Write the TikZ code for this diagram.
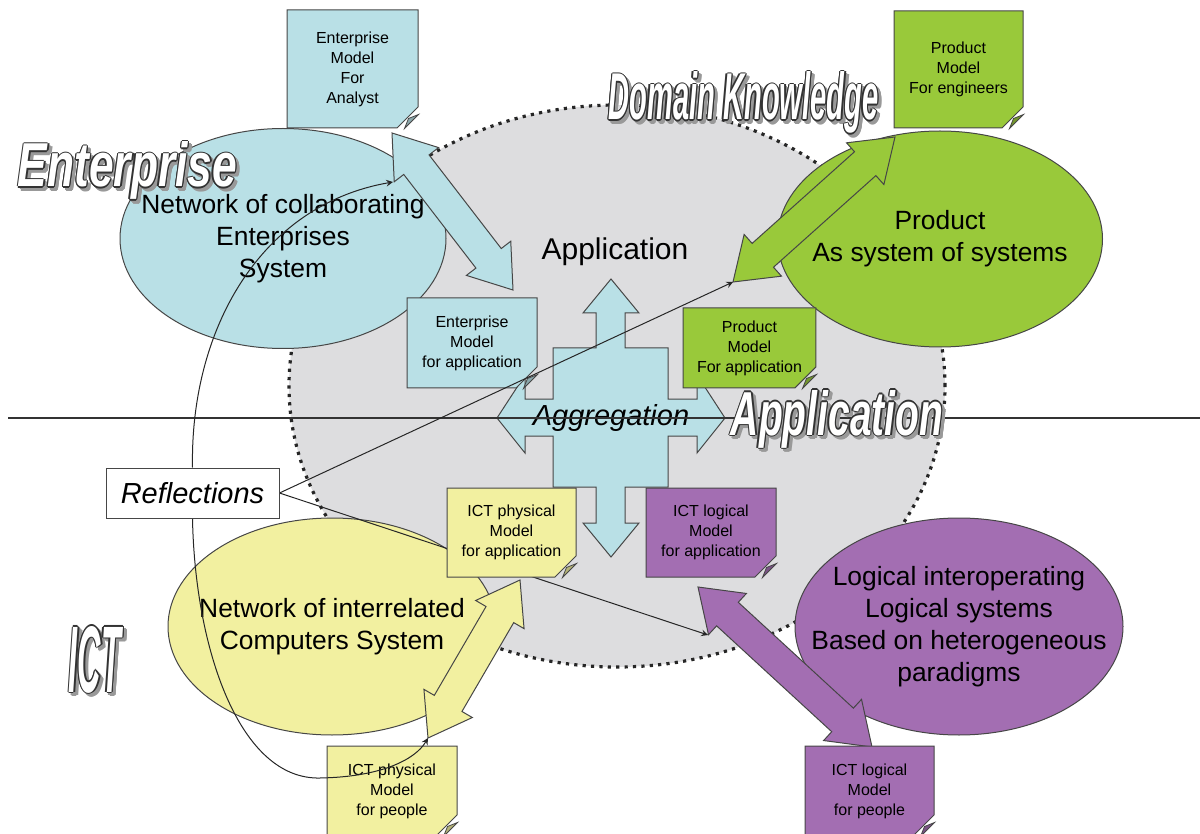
\documentclass[tikz,border=0pt]{standalone}
\usepackage{fontspec}
\setmainfont{Liberation Sans}
\newfontfamily\artfont{Liberation Sans}
\usetikzlibrary{arrows, calc, shapes.geometric, shapes.misc}

\definecolor{entblue}{RGB}{185,224,230}
\definecolor{prodgreen}{RGB}{153,201,58}
\definecolor{ictyellow}{RGB}{242,240,160}
\definecolor{logpurple}{RGB}{163,110,178}
\definecolor{appgrey}{RGB}{221,221,223}
\definecolor{edgegrey}{RGB}{70,70,70}

\tikzstyle{appdomain} = [ellipse, fill=appgrey, draw=black!85, line width=1.6pt, dash pattern=on 1.6pt off 2.6pt, minimum width=328pt, minimum height=281pt, inner sep=0pt]
\tikzstyle{sysellipse} = [ellipse, draw=edgegrey, line width=0.5pt, inner sep=0pt]
\tikzstyle{systext} = [align=center, inner sep=0pt, font=\fontsize{13.2}{16}\selectfont]
\tikzstyle{modelnote} = [chamfered rectangle, chamfered rectangle corners=south east, chamfered rectangle xsep=7pt, draw=edgegrey, line width=0.5pt, inner sep=0pt, align=center, font=\fontsize{8}{10}\selectfont]
\tikzstyle{blockarr} = [draw=edgegrey, line width=0.5pt, line join=miter]
\tikzstyle{reflline} = [->, >=stealth, line width=0.5pt, black!85]
\tikzstyle{reflbox} = [draw=edgegrey, fill=white, line width=0.5pt, minimum width=86.5pt, minimum height=25pt, inner sep=0pt, font=\fontsize{14.5}{17}\selectfont\itshape]
\tikzstyle{artword} = [anchor=base, inner sep=0pt, font=\artfont\bfseries\itshape]
\tikzstyle{divider} = [line width=0.6pt, black!80]

% double headed block arrow between two tips
\newcommand{\blockarrow}[3]{%
  \filldraw[blockarr, fill=#1] (#2)
    -- ($(#2)!20pt!(#3)!14pt!90:(#3)$) -- ($(#2)!20pt!(#3)!8pt!90:(#3)$)
    -- ($(#3)!20pt!(#2)!8pt!-90:(#2)$) -- ($(#3)!20pt!(#2)!14pt!-90:(#2)$)
    -- (#3)
    -- ($(#3)!20pt!(#2)!14pt!90:(#2)$) -- ($(#3)!20pt!(#2)!8pt!90:(#2)$)
    -- ($(#2)!20pt!(#3)!8pt!-90:(#3)$) -- ($(#2)!20pt!(#3)!14pt!-90:(#3)$)
    -- cycle;}

\newcommand{\notefold}[2]{%
  \filldraw[fill=#2!75!black, draw=edgegrey, line width=0.4pt]
    ($(#1.north east |- #1.south west)+(-14,0)$) -- ($(#1.north east |- #1.south west)+(0,-14)$)
    -- ($(#1.north east |- #1.south west)+(-10,-10)$) -- cycle;}

% outlined title with shadow
\newcommand{\wordart}[5]{%
  \foreach \ang in {0,45,...,315}
    \node[artword, text=black!40] (#1s\ang) at ($(#2)+(3,3)+(\ang:1.4)$) {\resizebox{#3}{#4}{#5}};
  \foreach \ang in {0,45,...,315}
    \node[artword, text=black!80] (#1o\ang) at ($(#2)+(\ang:1.4)$) {\resizebox{#3}{#4}{#5}};
  \node[artword, text=white] (#1) at (#2) {\resizebox{#3}{#4}{#5}};}

\begin{document}
\begin{tikzpicture}[x=0.5pt, y=-0.5pt]
\useasboundingbox (0,0) rectangle (1200,834);

\node[appdomain] (appDom) at (617,386) {};

\node[sysellipse, fill=entblue, minimum width=163pt, minimum height=110pt,
  label={[systext]center:Network of collaborating\\Enterprises\\System}] (entSys) at (283,238.5) {};
\node[sysellipse, fill=prodgreen, minimum width=162.5pt, minimum height=108pt,
  label={[systext]center:Product\\As system of systems}] (prodSys) at (940,239) {};
\node[sysellipse, fill=ictyellow, minimum width=164pt, minimum height=108.5pt,
  label={[systext]center:Network of interrelated\\Computers System}] (ictSys) at (332,626.5) {};
\node[sysellipse, fill=logpurple, minimum width=164pt, minimum height=108.5pt,
  label={[systext]center:Logical interoperating\\Logical systems\\Based on heterogeneous\\paradigms}] (logSys) at (959,626.5) {};

\coordinate (entTipA) at (392,133);
\coordinate (entTipB) at (513,290);
\coordinate (prodTipA) at (895,137);
\coordinate (prodTipB) at (733,282);
\coordinate (ictTipA) at (520,580);
\coordinate (ictTipB) at (428,738);
\coordinate (logTipA) at (698,587);
\coordinate (logTipB) at (872,747);
\coordinate (entWing) at (393,182);
\coordinate (logWing) at (708,635);
\coordinate (hsepL) at (8,418);
\coordinate (hsepR) at (1200,418);

\blockarrow{entblue}{entTipA}{entTipB}
\blockarrow{prodgreen}{prodTipA}{prodTipB}
\blockarrow{ictyellow}{ictTipA}{ictTipB}
\blockarrow{logpurple}{logTipA}{logTipB}

% aggregation cross
\filldraw[blockarr, fill=entblue] (611,279) -- (639,313) -- (625,313) -- (625,348) -- (668,348)
  -- (668,399) -- (697,399) -- (697,375) -- (725,418) -- (697,453) -- (697,436) -- (668,436)
  -- (668,487) -- (625,487) -- (625,523) -- (639,523) -- (611,557) -- (583,523) -- (596,523)
  -- (596,487) -- (553,487) -- (553,436) -- (525,436) -- (525,453) -- (497,418) -- (525,375)
  -- (525,399) -- (553,399) -- (553,348) -- (596,348) -- (596,313) -- (583,313) -- cycle;
\node[font=\fontsize{14.5}{17}\selectfont\itshape] (aggr) at (611,418) {Aggregation};

\node[reflbox] (refl) at (192.5,493) {Reflections};
\draw[reflline] (refl.east) -- (logWing);

\node[modelnote, fill=entblue, minimum width=65.5pt, minimum height=59pt] (entAnalyst) at (352.5,69) {Enterprise\\Model\\For\\Analyst};
\node[modelnote, fill=entblue, minimum width=65pt, minimum height=45pt] (entApp) at (472,343) {Enterprise\\Model\\for application};
\node[modelnote, fill=prodgreen, minimum width=64.5pt, minimum height=58.5pt] (prodEng) at (958.5,69.5) {Product\\Model\\For engineers};
\node[modelnote, fill=prodgreen, minimum width=64.5pt, minimum height=40pt] (prodApp) at (749.5,348) {Product\\Model\\For application};
\node[modelnote, fill=ictyellow, minimum width=64.5pt, minimum height=44.5pt] (ictApp) at (511.5,532.5) {ICT physical\\Model\\for application};
\node[modelnote, fill=logpurple, minimum width=65pt, minimum height=44.5pt] (logApp) at (711,532.5) {ICT logical\\Model\\for application};
\node[modelnote, fill=ictyellow, minimum width=65pt, minimum height=45pt] (ictPeople) at (392,791) {ICT physical\\Model\\for people};
\node[modelnote, fill=logpurple, minimum width=64.5pt, minimum height=45pt] (logPeople) at (869.5,791) {ICT logical\\Model\\for people};
\notefold{entAnalyst}{entblue}
\notefold{entApp}{entblue}
\notefold{prodEng}{prodgreen}
\notefold{prodApp}{prodgreen}
\notefold{ictApp}{ictyellow}
\notefold{logApp}{logpurple}
\notefold{ictPeople}{ictyellow}
\notefold{logPeople}{logpurple}

\draw[divider] (hsepL) -- (hsepR);

\draw[reflline] (refl.east) -- (prodTipB);
\draw[reflline] (refl.north) .. controls (190,330) and (260,205) .. (entWing);
\draw[reflline] (refl.south) .. controls (195,650) and (240,780) .. (320,778) .. controls (380,777) and (415,760) .. (ictTipB);
\node[reflbox] (reflTop) at (refl) {Reflections};

\node[font=\fontsize{15}{18}\selectfont] (appLabel) at (615,252) {Application};

\coordinate (entArtBase) at (127.5,187);
\coordinate (domArtBase) at (743.5,120);
\coordinate (appArtBase) at (837,435);
\coordinate (ictArtBase) at (95,692);
\wordart{entArt}{entArtBase}{109.5pt}{22.5pt}{Enterprise}
\wordart{domArt}{domArtBase}{135pt}{24pt}{Domain Knowledge}
\wordart{appArt}{appArtBase}{106pt}{22.5pt}{Application}
\wordart{ictArt}{ictArtBase}{26pt}{33pt}{ICT}

\end{tikzpicture}
\end{document}
